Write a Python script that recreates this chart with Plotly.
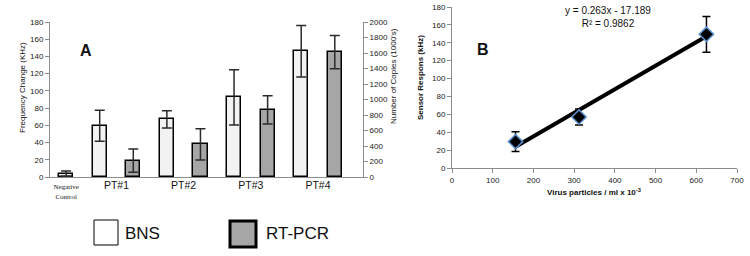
import plotly.graph_objects as go

# ---------------- Data: panel A ----------------
categories = ["Negative<br>Control", "PT#1", "PT#2", "PT#3", "PT#4"]
bns_values = [4, 59.5, 67, 92.5, 146]           # Frequency change (KHz)
bns_errors = [3, 18, 10, 32, 30]
rt_categories = ["PT#1", "PT#2", "PT#3", "PT#4"]
rt_values = [211, 421, 865, 1611]               # Number of copies (1000's)
rt_errors = [150, 202, 182, 215]

# ---------------- Data: panel B ----------------
virus_particles = [156, 312, 625]
sensor_response = [29.5, 57, 149.5]
sensor_errors = [11, 9, 20]
fit_slope = 0.263
fit_intercept = -17.189
fit_r2 = 0.9862

W, H = 750, 256
FONT = "Liberation Sans, Arial, sans-serif"
NARROW = "Liberation Sans Narrow, Arial Narrow, Liberation Sans, Arial, sans-serif"

bns_pos = [0] + [2 * i - 1 for i in range(1, len(categories))]
rt_pos = [2 * categories.index(c) for c in rt_categories]
tick_pos = [0] + [2 * i - 0.5 for i in range(1, len(categories))]
tick_text = [
    c if c.startswith("Negative")
    else f"<span style='font-family:Liberation Sans;font-size:10.5px'>{c}</span>"
    for c in categories
]

fig = go.Figure()

fig.add_trace(go.Bar(
    x=bns_pos, y=bns_values, width=0.42, name="BNS",
    marker=dict(color="#f2f2f2", line=dict(color="#000000", width=1.5)),
    error_y=dict(type="data", array=bns_errors, color="#2b2b2b", thickness=1.5, width=5),
    xaxis="x", yaxis="y", showlegend=False,
))
fig.add_trace(go.Bar(
    x=rt_pos, y=rt_values, width=0.42, name="RT-PCR",
    marker=dict(color="#a6a6a6", line=dict(color="#000000", width=1.5)),
    error_y=dict(type="data", array=rt_errors, color="#2b2b2b", thickness=1.5, width=5),
    xaxis="x", yaxis="y2", showlegend=False,
))

fit_x = [min(virus_particles), max(virus_particles)]
fit_y = [fit_slope * v + fit_intercept for v in fit_x]
fig.add_trace(go.Scatter(
    x=fit_x, y=fit_y, mode="lines", line=dict(color="#000000", width=4),
    xaxis="x3", yaxis="y3", showlegend=False,
))
fig.add_trace(go.Scatter(
    x=virus_particles, y=sensor_response, mode="markers",
    marker=dict(symbol="diamond", size=11, color="#000000",
                line=dict(color="#5b8fd0", width=1.5)),
    error_y=dict(type="data", array=sensor_errors, color="#000000", thickness=1.5, width=4),
    xaxis="x3", yaxis="y3", showlegend=False,
))

axis_common = dict(showgrid=False, zeroline=False, showline=True, linecolor="#8c8c8c",
                   linewidth=1, ticks="outside", tickcolor="#8c8c8c", ticklen=4,
                   tickfont=dict(family=FONT, size=8, color="#222222"))

fig.update_layout(
    width=W, height=H,
    margin=dict(l=0, r=0, t=0, b=0, autoexpand=False),
    paper_bgcolor="white", plot_bgcolor="white",
    bargap=0,
    xaxis=dict(domain=[50 / W, 363 / W], range=[-0.48, 8.84], anchor="y",
               showgrid=False, zeroline=False, showline=True, linecolor="#8c8c8c",
               ticks="", tickvals=tick_pos, ticktext=tick_text,
               tickfont=dict(family="Liberation Serif, Times New Roman, serif", size=7,
                             color="#111111"),
               ticklabelstandoff=3),
    yaxis=dict(domain=[79 / H, 234 / H], range=[0, 180], dtick=20, anchor="x",
               **axis_common),
    yaxis2=dict(domain=[79 / H, 234 / H], range=[0, 2000], dtick=200,
                overlaying="y", side="right", anchor="x", **axis_common),
    xaxis3=dict(domain=[452 / W, 737 / W], range=[0, 700], dtick=100, anchor="y3",
                **axis_common),
    yaxis3=dict(domain=[88 / H, 249 / H], range=[0, 180], dtick=20, anchor="x3",
                **axis_common),
)


def px_note(text, x, y, size, family=FONT, angle=0, xanchor="center"):
    fig.add_annotation(text=text, x=x / W, y=1 - y / H, xref="paper", yref="paper",
                       xanchor=xanchor, yanchor="middle", textangle=angle,
                       showarrow=False, font=dict(family=family, size=size, color="#111111"))


px_note("Frequency Change (KHz)", 22, 88, 8, NARROW, -90)
px_note("Number of Copies (1000's)", 393, 76, 8, NARROW, -90)
px_note("<b>Sensor Respons (kHz)</b>", 420, 78, 8, FONT, -90)
px_note("<b>Virus particles / ml x 10<sup>-3</sup></b>", 594, 192, 8)
px_note(f"y = {fit_slope}x - {abs(fit_intercept)}<br>R² = {fit_r2}", 608, 17, 10)
px_note("<b>A</b>", 86, 50, 16)
px_note("<b>B</b>", 483, 49, 16)
px_note("BNS", 123, 233, 17, FONT, 0, "left")
px_note("RT-PCR", 264, 233, 17, FONT, 0, "left")

fig.add_shape(type="rect", x0=94 / W, x1=118 / W, y0=1 - 245 / H, y1=1 - 220 / H,
              xref="paper", yref="paper", fillcolor="white", line=dict(color="#000000", width=1))
fig.add_shape(type="rect", x0=230 / W, x1=256 / W, y0=1 - 247 / H, y1=1 - 221 / H,
              xref="paper", yref="paper", fillcolor="#a6a6a6", line=dict(color="#000000", width=3))

fig.write_html("out.html", config={"displayModeBar": False},
               post_script="document.body.style.margin='0';")
